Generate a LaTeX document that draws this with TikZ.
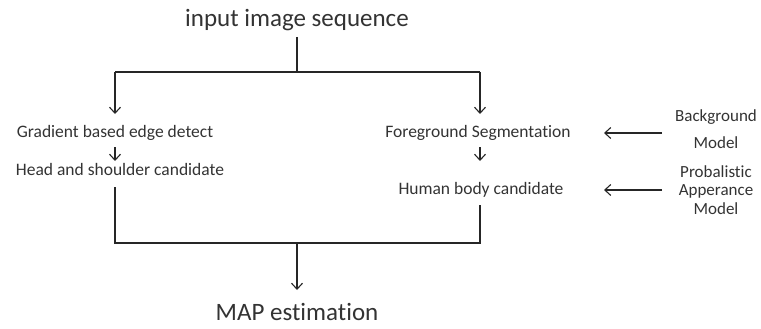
\documentclass[tikz,border=0pt]{standalone}
\usepackage{fontspec}
\setmainfont{Carlito}[Ligatures=NoCommon]
\usetikzlibrary{arrows.meta}
\definecolor{txt}{HTML}{333333}
\begin{document}
\begin{tikzpicture}[x=1pt,y=-1pt,
  big/.style={font=\fontsize{25}{28}\selectfont,text=txt,inner sep=0pt},
  small/.style={font=\fontsize{17.5}{20}\selectfont,text=txt,inner sep=1pt,align=center},
  line/.style={draw=black!85,line width=1.1pt},
  arr/.style={line,-{Straight Barb[length=6pt,width=11pt]}}]
\useasboundingbox (0,0) rectangle (761,329);

\node[big] (in) at (297,20) {input image sequence};
\node[big] (map) at (297,312) {MAP estimation};

\node[small] (grad) at (115,133) {Gradient based edge detect};
\node[small] (head) at (120,169) {Head and shoulder candidate};
\node[small] (fg) at (478,133) {Foreground Segmentation};
\node[small] (hb) at (481,190) {Human body candidate};

\node[small,font=\fontsize{17}{27}\selectfont] (bg) at (716,129) {Background\\Model};
\node[small,font=\fontsize{17}{18.5}\selectfont] (pa) at (716,190) {Probalistic\\Apperance\\Model};

% split of the input sequence
\coordinate (top) at (297,72);
\coordinate (splitL) at (115,72);
\coordinate (splitR) at (480,72);
\draw[line] (in.south) ++(0,6) -- (top);
\draw[line] (splitL) -- (splitR);
\draw[arr] (splitL) -- (115,114);
\draw[arr] (splitR) -- (480,114);

% steps inside each branch
\draw[arr] (115,147) -- (115,161);
\draw[arr] (480,147) -- (480,161);

% merge into the estimate
\coordinate (mL) at (115,243);
\coordinate (mR) at (480,243);
\coordinate (mC) at (297,243);
\draw[line] (115,187) -- (mL) -- (mR) -- (480,205);
\draw[arr] (mC) -- (297,290);

% model inputs
\coordinate (bgEnd) at (604,133);
\coordinate (paEnd) at (604,190);
\draw[arr] (662,133) -- (bgEnd);
\draw[arr] (662,190) -- (paEnd);
\end{tikzpicture}
\end{document}
